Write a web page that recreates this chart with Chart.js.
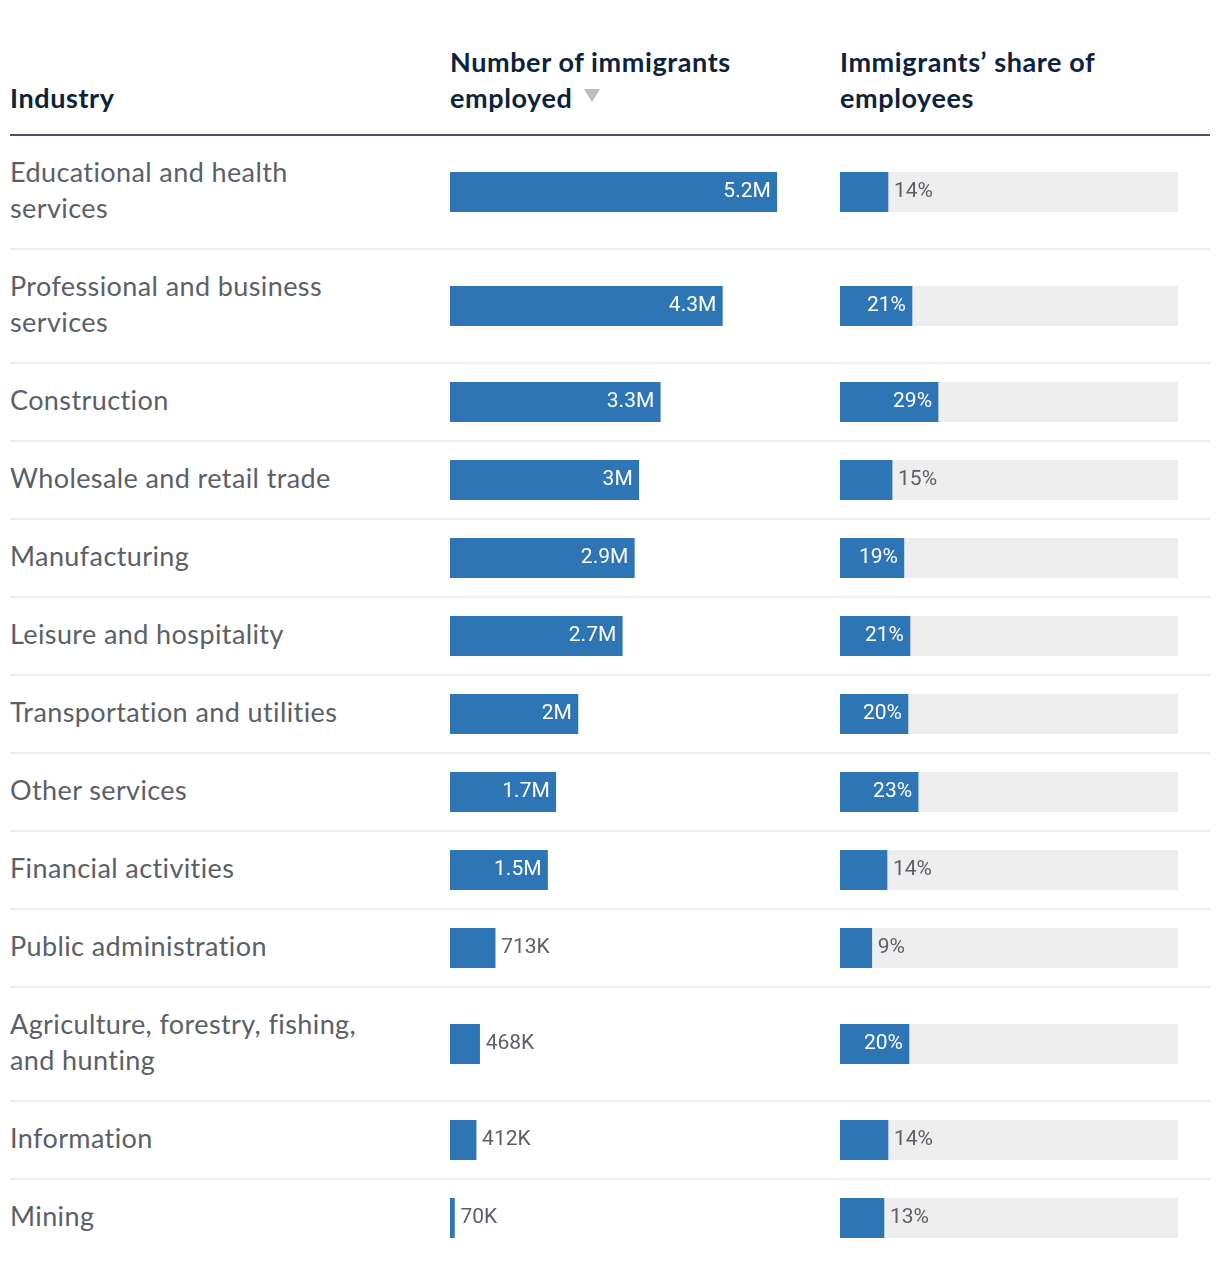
<!DOCTYPE html>
<html>
<head>
<meta charset="utf-8">
<script src="https://cdn.jsdelivr.net/npm/chart.js@4.4.0/dist/chart.umd.min.js"></script>
<style>
  body { margin: 0; background: #fff; font-family: Lato, "Noto Sans", sans-serif; }
  #wrap { position: absolute; left: 10px; top: 0; width: 1200px; }
  .head { height: 134px; border-bottom: 2px solid #4a5360; display: flex; align-items: flex-end; box-sizing: content-box; }
  .head div { font-weight: 700; font-size: 27px; letter-spacing: 0.6px; line-height: 36px; color: #0c2340; padding-bottom: 18px; }
  .h1 { width: 440px; }
  .h2 { width: 390px; }
  .arrow { display: inline-block; width: 0; height: 0; border-left: 8px solid transparent; border-right: 8px solid transparent; border-top: 13px solid #bdbdbd; margin-left: 12px; vertical-align: 6px; }
  .row { display: flex; align-items: center; padding: 18px 0; border-bottom: 2px solid #eeeeee; }
  .row:last-child { border-bottom: none; }
  .lab { width: 440px; font-size: 27px; letter-spacing: 0.4px; line-height: 36px; color: #5b6068; white-space: pre-line; padding: 2px 0; position: relative; top: -2px; }
  .num { width: 380px; height: 40px; }
  .gap { width: 10px; }
  .shr { width: 338px; height: 40px; }
</style>
</head>
<body>
<div id="wrap">
  <div class="head">
    <div class="h1">Industry</div>
    <div class="h2">Number of immigrants<br>employed<span class="arrow"></span></div>
    <div>Immigrants’ share of<br>employees</div>
  </div>
  <div id="rows"></div>
</div>
<script>
// данні з картинки
const industries = [
  "Educational and health\nservices",
  "Professional and business\nservices",
  "Construction",
  "Wholesale and retail trade",
  "Manufacturing",
  "Leisure and hospitality",
  "Transportation and utilities",
  "Other services",
  "Financial activities",
  "Public administration",
  "Agriculture, forestry, fishing,\nand hunting",
  "Information",
  "Mining"
];
// thousands of workers
const immigrantsEmployed = [5160, 4300, 3320, 2980, 2910, 2720, 2020, 1670, 1540, 713, 468, 412, 70];
// percent
const immigrantShare = [14.2, 21.3, 29.0, 15.4, 18.9, 20.7, 20.1, 23.1, 13.9, 9.4, 20.4, 14.2, 13.0];

const numMax = 6000;
const shareMax = 100;
const barColor = "#2e75b6";
const trackColor = "#eeeeee";
const valueFont = "21px Roboto, sans-serif";

function fmtNum(v) {
  if (v >= 1000) {
    return (v / 1000).toFixed(1).replace(/\.0$/, "") + "M";
  }
  return Math.round(v) + "K";
}
function fmtShare(v) {
  return Math.round(v) + "%";
}

// фон-доріжка для частки
const trackPlugin = {
  id: "track",
  beforeDatasetsDraw(chart, args, opts) {
    if (!opts.on) return;
    const ctx = chart.ctx;
    const x = chart.scales.x;
    const area = chart.chartArea;
    ctx.save();
    ctx.fillStyle = trackColor;
    ctx.fillRect(x.getPixelForValue(0), area.top, x.getPixelForValue(shareMax) - x.getPixelForValue(0), area.bottom - area.top);
    ctx.restore();
  }
};

// підпис значення всередині або збоку
const valueLabel = {
  id: "valueLabel",
  afterDatasetsDraw(chart, args, opts) {
    const ctx = chart.ctx;
    const bar = chart.getDatasetMeta(0).data[0];
    const text = opts.format(chart.data.datasets[0].data[0]);
    ctx.save();
    ctx.font = valueFont;
    ctx.textBaseline = "middle";
    const w = ctx.measureText(text).width;
    const barW = bar.x - bar.base;
    if (barW > w + 16) {
      ctx.fillStyle = "#ffffff";
      ctx.textAlign = "right";
      ctx.fillText(text, bar.x - 6, bar.y);
    } else {
      ctx.fillStyle = "#5b6068";
      ctx.textAlign = "left";
      ctx.fillText(text, bar.x + 6, bar.y);
    }
    ctx.restore();
  }
};

function makeBar(canvas, value, max, format, track) {
  return new Chart(canvas.getContext("2d"), {
    type: "bar",
    data: {
      labels: [""],
      datasets: [{
        data: [value],
        backgroundColor: barColor,
        borderWidth: 0,
        barPercentage: 1,
        categoryPercentage: 1
      }]
    },
    options: {
      indexAxis: "y",
      responsive: false,
      animation: false,
      devicePixelRatio: 1,
      layout: { padding: 0 },
      scales: {
        x: { display: false, min: 0, max: max },
        y: { display: false }
      },
      plugins: {
        legend: { display: false },
        tooltip: { enabled: false },
        track: { on: track },
        valueLabel: { format: format }
      }
    },
    plugins: [trackPlugin, valueLabel]
  });
}

const rowsEl = document.getElementById("rows");
for (let i = 0; i < industries.length; i++) {
  const row = document.createElement("div");
  row.className = "row";
  const lab = document.createElement("div");
  lab.className = "lab";
  lab.textContent = industries[i];
  const c1 = document.createElement("canvas");
  c1.className = "num";
  c1.width = 380; c1.height = 40;
  const gap = document.createElement("div");
  gap.className = "gap";
  const c2 = document.createElement("canvas");
  c2.className = "shr";
  c2.width = 338; c2.height = 40;
  row.appendChild(lab);
  row.appendChild(c1);
  row.appendChild(gap);
  row.appendChild(c2);
  rowsEl.appendChild(row);
  makeBar(c1, immigrantsEmployed[i], numMax, fmtNum, false);
  makeBar(c2, immigrantShare[i], shareMax, fmtShare, true);
}
</script>
</body>
</html>
